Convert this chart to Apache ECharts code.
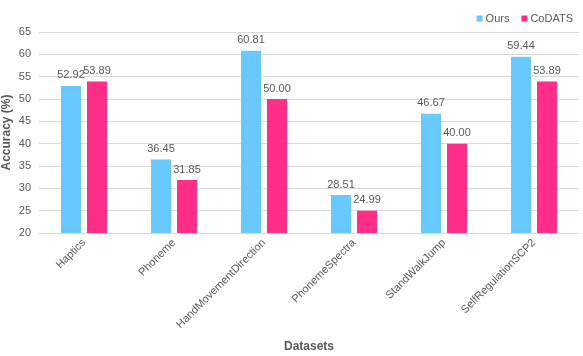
<!DOCTYPE html>
<html><head><meta charset="utf-8">
<script src="https://cdn.jsdelivr.net/npm/echarts@6/dist/echarts.min.js"></script>
<style>html,body{margin:0;padding:0;background:#fff}#c{width:583px;height:356px}</style>
</head><body><div id="c"></div>
<script>
const categories = ['Haptics','Phoneme','HandMovementDirection','PhonemeSpectra','StandWalkJump','SelfRegulationSCP2'];
const ours = [52.92, 36.45, 60.81, 28.51, 46.67, 59.44];
const codats = [53.89, 31.85, 50.00, 24.99, 40.00, 53.89];
const yTicks = [20, 25, 30, 35, 40, 45, 50, 55, 60, 65];

const font = '"Liberation Sans", Arial, sans-serif';
const chart = echarts.init(document.getElementById('c'));
const lbl = {show:true, position:'top', color:'#595959', fontSize:11, fontFamily:font, distance:5, formatter: p => p.value.toFixed(2)};
chart.setOption({
  animation:false,
  textStyle:{fontFamily:font},
  legend:{right:5, top:8, itemWidth:6, itemHeight:6, itemGap:12, icon:'rect',
    textStyle:{color:'#595959', fontSize:11, fontFamily:font, padding:[0,0,0,-2]}},
  grid:{left:39, right:4, top:32, bottom:123, containLabel:false, outerBoundsMode:'none'},
  xAxis:{type:'category', data:categories,
    axisLine:{lineStyle:{color:'#d9d9d9'}}, axisTick:{show:false},
    axisLabel:{rotate:45, color:'#595959', fontSize:11, fontFamily:font, interval:0, margin:8},
    name:'Datasets', nameLocation:'middle', nameGap:108, nameMoveOverlap:false,
    nameTextStyle:{fontWeight:'bold', fontSize:12, color:'#595959', fontFamily:font}},
  yAxis:{type:'value', min:yTicks[0], max:yTicks[yTicks.length-1], interval:5,
    axisLine:{show:false}, axisTick:{show:false},
    splitLine:{lineStyle:{color:'#d9d9d9'}},
    axisLabel:{color:'#595959', fontSize:11, fontFamily:font, margin:8},
    name:'Accuracy (%)', nameLocation:'middle', nameGap:26, nameMoveOverlap:false,
    nameTextStyle:{fontWeight:'bold', fontSize:12, color:'#595959', fontFamily:font}},
  series:[
    {name:'Ours', type:'bar', data:ours, barWidth:20, barGap:'30%', itemStyle:{color:'#69C9FF'}, label:lbl},
    {name:'CoDATS', type:'bar', data:codats, barWidth:20, itemStyle:{color:'#FF2E88'}, label:lbl}
  ]
});
</script></body></html>
